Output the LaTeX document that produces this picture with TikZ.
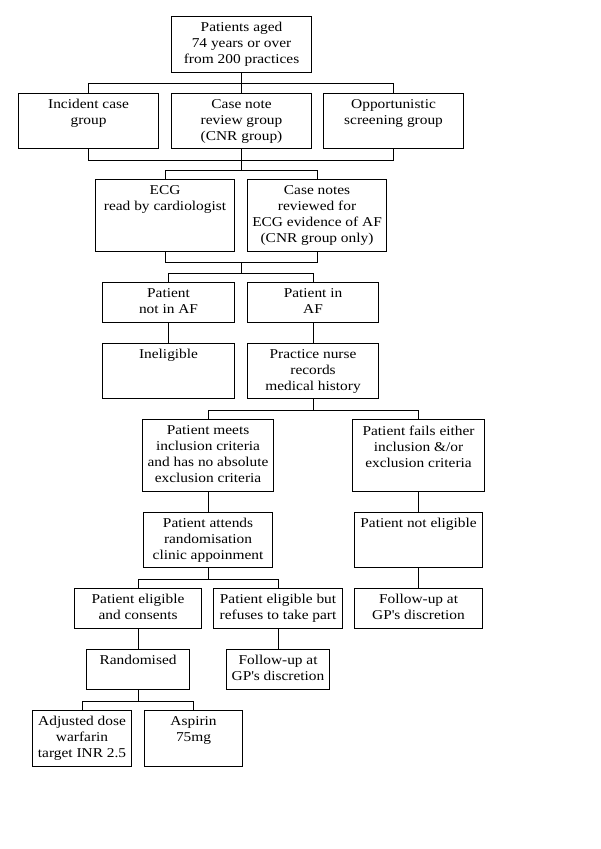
\documentclass[tikz,border=0pt]{standalone}
\usepackage{fontspec}
\setmainfont{Liberation Serif}[FakeStretch=1.14]
\usetikzlibrary{calc}
\tikzset{
  box/.style={draw=black, line width=1.1pt, inner sep=0pt, rectangle},
  txt/.style={inner sep=0pt, align=center, font=\fontsize{13.5}{16}\selectfont},
  con/.style={draw=black, line width=1.1pt}
}
\newcommand\bx[6]{%
  \node[box, minimum width=#4pt, minimum height=#5pt, anchor=north west] (#1) at (#2,#3) {};
  \node[txt, anchor=north] (#1t) at ([yshift=-6.3pt]#1.north) {#6};}
\begin{document}
\begin{tikzpicture}[x=1pt,y=-1pt]
\useasboundingbox[fill=white] (0,0) rectangle (600,849);
\bx{top}{171}{16}{140}{56}{Patients aged\\74 years or over\\from 200 practices}
\bx{inc}{18}{93}{140}{55}{Incident case\\group}
\bx{cnr}{171}{93}{140}{55}{Case note\\review group\\(CNR group)}
\bx{opp}{323}{93}{140}{55}{Opportunistic\\screening group}
\bx{ecg}{95}{179}{139}{72}{ECG\\read by cardiologist}
\bx{cn}{247}{179}{139}{72}{Case notes\\reviewed for\\ECG evidence of AF\\(CNR group only)}
\bx{nia}{102}{282}{132}{40}{Patient\\not in AF}
\bx{ia}{247}{282}{131}{40}{Patient in\\AF}
\bx{inel}{102}{343}{132}{55}{Ineligible}
\bx{pn}{247}{343}{131}{55}{Practice nurse\\records\\medical history}
\bx{meets}{142}{419}{131}{72}{Patient meets\\inclusion criteria\\and has no absolute\\exclusion criteria}
\bx{fails}{352}{419}{132}{72}{Patient fails either\\inclusion \&/or\\exclusion criteria}
\bx{attends}{143}{512}{129}{55}{Patient attends\\randomisation\\clinic appoinment}
\bx{notel}{354}{512}{128}{55}{Patient not eligible}
\bx{cons}{74}{588}{127}{40}{Patient eligible\\and consents}
\bx{refuse}{213}{588}{129}{40}{Patient eligible but\\refuses to take part}
\bx{fu2}{354}{588}{128}{40}{Follow-up at\\GP\textquotesingle s discretion}
\bx{rand}{86}{649}{103}{40}{Randomised}
\bx{fu1}{226}{649}{103}{40}{Follow-up at\\GP\textquotesingle s discretion}
\bx{adj}{32}{710}{99}{56}{Adjusted dose\\warfarin\\target INR 2.5}
\bx{asp}{144}{710}{98}{56}{Aspirin\\75mg}
% connectors
\draw[con] (top.south) -- ++(0,10) coordinate (j1);
\draw[con] (inc.north) |- (j1) -| (opp.north);
\draw[con] (cnr.north) -- (j1);
\draw[con] (inc.south) -- ++(0,11) -| (opp.south);
\draw[con] (cnr.south) -- ++(0,21) coordinate (j2);
\draw[con] (ecg.north) |- (j2) -| (cn.north);
\draw[con] (ecg.south) -- ++(0,10) -| (cn.south);
\draw[con] ($(ecg.south)!.5!(cn.south)+(0,10)$) -- ++(0,11) coordinate (j3);
\draw[con] (nia.north) |- (j3) -| (ia.north);
\draw[con] (nia.south) -- (inel.north);
\draw[con] (ia.south) -- (pn.north);
\draw[con] (pn.south) -- ++(0,11) coordinate (j4);
\draw[con] (meets.north) |- (j4) -| (fails.north);
\draw[con] (meets.south) -- (attends.north);
\draw[con] (fails.south) -- (notel.north);
\draw[con] (notel.south) -- (fu2.north);
\draw[con] (attends.south) -- ++(0,11) coordinate (j5);
\draw[con] (cons.north) |- (j5) -| (refuse.north);
\draw[con] (cons.south) -- (rand.north);
\draw[con] (refuse.south) -- (fu1.north);
\draw[con] (rand.south) -- ++(0,11) coordinate (j6);
\draw[con] (adj.north) |- (j6) -| (asp.north);
\end{tikzpicture}
\end{document}
